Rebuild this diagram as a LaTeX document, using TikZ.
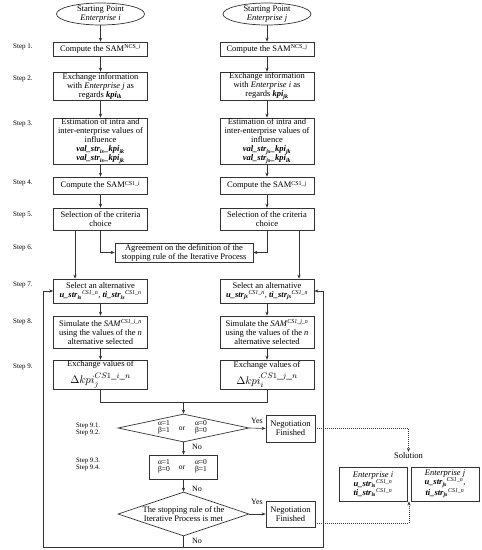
\documentclass[tikz,border=0pt]{standalone}
\usepackage{fontspec}
\setmainfont{Liberation Serif}
\usetikzlibrary{arrows.meta,shapes.geometric,calc}
\newcommand{\fsz}{\fontsize{8.5}{9}\selectfont}
\newcommand{\bi}[1]{\textbf{\textit{#1}}}
\newcommand{\lo}[1]{\textsubscript{#1}}
\newcommand{\hi}[1]{\textsuperscript{#1}}
\newcommand{\dkpi}[2]{{\fontsize{11}{12}\selectfont$\Delta kpi_{#1}^{#2}$}}
\definecolor{lncol}{HTML}{333333}
\begin{document}
\begin{tikzpicture}[x=1pt,y=-1pt,
  box/.style={draw=lncol, line width=0.7pt, align=center, font=\fsz, inner sep=0pt, minimum width=94pt},
  ell/.style={draw=lncol, line width=0.7pt, ellipse, inner sep=0pt, minimum width=88pt, minimum height=22pt},
  etext/.style={font=\fontsize{8.5}{8.5}\selectfont, align=center, inner sep=0pt},
  dia/.style={draw=lncol, line width=0.7pt, diamond, inner sep=0pt, minimum width=131pt},
  con/.style={draw=lncol, line width=0.6pt},
  arr/.style={draw=lncol, line width=0.6pt, -{Stealth[length=4pt,width=3.2pt]}},
  dotarr/.style={draw=lncol, line width=0.6pt, dash pattern=on 1pt off 1pt, -{Stealth[length=4pt,width=3.2pt]}},
  steplbl/.style={anchor=west, font=\fontsize{7}{8}\selectfont, inner sep=0pt},
  sublbl/.style={anchor=west, font=\fontsize{6.8}{7}\selectfont, inner sep=0pt, align=left},
  small/.style={font=\fontsize{7.5}{7.5}\selectfont, inner sep=0pt, align=left},
  yn/.style={font=\fontsize{8}{9}\selectfont, inner sep=0pt}
]
\useasboundingbox (0,0) rectangle (482,550);

% start ellipses
\node[ell] (e1) at (100.5,14) {};
\node[etext] (e1t) at (e1.center) {Starting Point\\\textit{Enterprise i}};
\node[ell] (f1) at (267,14) {};
\node[etext] (f1t) at (f1.center) {Starting Point\\\textit{Enterprise j}};

% left column
\node[box, minimum height=14pt] (a1) at (100.5,49) {Compute the SAM\hi{NCS\_i}};
\node[box, minimum height=28pt] (a2) at (100.5,86) {Exchange information\\with \textit{Enterprise j} as\\regards \bi{kpi}\lo{\bi{ik}}};
\node[box, minimum height=46pt] (a3) at (100.5,141) {Estimation of intra and\\inter-enterprise values of\\influence\\\bi{val\_str}\lo{\bi{is}}\bi{\_kpi}\lo{\bi{ik}}\\\bi{val\_str}\lo{\bi{is}}\bi{\_kpi}\lo{\bi{jk}}};
\node[box, minimum height=17pt] (a4) at (100.5,185.5) {Compute the SAM\hi{CS1\_i}};
\node[box, minimum height=22pt] (a5) at (100.5,219) {Selection of the criteria\\choice};
\node[box, minimum height=24pt] (a7) at (100.5,291) {Select an alternative\\\bi{u\_str}\lo{\bi{is}}\hi{\textit{CS1\_n}}, \bi{ti\_str}\lo{\bi{is}}\hi{\textit{CS1\_n}}};
\node[box, minimum height=32pt] (a8) at (100.5,332) {Simulate the \textit{SAM}\hi{\textit{CS1\_i\_n}}\\using the values of the \textit{n}\\alternative selected};
\node[box, minimum height=29pt] (a9) at (100.5,374.5) {Exchange values of\\[3pt]\dkpi{j}{CS1\_i\_n}};

% right column
\node[box, minimum height=14pt] (b1) at (267,49) {Compute the SAM\hi{NCS\_j}};
\node[box, minimum height=28pt] (b2) at (267,86) {Exchange information\\with \textit{Enterprise i} as\\regards \bi{kpi}\lo{\bi{jk}}};
\node[box, minimum height=46pt] (b3) at (267,141) {Estimation of intra and\\inter-enterprise values of\\influence\\\bi{val\_str}\lo{\bi{js}}\bi{\_kpi}\lo{\bi{jk}}\\\bi{val\_str}\lo{\bi{js}}\bi{\_kpi}\lo{\bi{ik}}};
\node[box, minimum height=17pt] (b4) at (267,185.5) {Compute the SAM\hi{CS1\_j}};
\node[box, minimum height=22pt] (b5) at (267,219) {Selection of the criteria\\choice};
\node[box, minimum height=24pt] (b7) at (267,291) {Select an alternative\\\bi{u\_str}\lo{\bi{js}}\hi{\textit{CS1\_n}}, \bi{ti\_str}\lo{\bi{js}}\hi{\textit{CS1\_n}}};
\node[box, minimum height=32pt] (b8) at (267,332) {Simulate the \textit{SAM}\hi{\textit{CS1\_j\_n}}\\using the values of the \textit{n}\\alternative selected};
\node[box, minimum height=29pt] (b9) at (267,374.5) {Exchange values of\\[3pt]\dkpi{i}{CS1\_j\_n}};

% agreement
\node[box, minimum width=138pt, minimum height=19pt] (agr) at (184,252.5) {Agreement on the definition of the\\stopping rule of the Iterative Process};

% decisions
\coordinate (m) at (183.5,402);
\node[dia, minimum height=28pt] (d1) at (183.5,428) {};
\node[small, align=center] (d1l) at (164,427.5) {α=1\\β=1};
\node[small] (d1o) at (182,428.5) {or};
\node[small, align=center] (d1r) at (201,427.5) {α=0\\β=0};

\node[box, minimum width=68pt, minimum height=24pt] (bx) at (183.5,467) {};
\node[small, align=center] (bxl) at (164,466.5) {α=1\\β=0};
\node[small] (bxo) at (182,467.5) {or};
\node[small, align=center] (bxr) at (201,466.5) {α=0\\β=1};

\node[dia, minimum height=44pt] (d2) at (183.5,514) {};
\node[font=\fsz, align=center, inner sep=0pt] (d2t) at (183.5,514) {The stopping rule of the\\Iterative Process is met};

\node[box, minimum width=49pt, minimum height=27pt] (nf1) at (290.5,428.5) {Negotiation\\Finished};
\node[box, minimum width=49pt, minimum height=26pt] (nf2) at (290.5,514) {Negotiation\\Finished};

% solution
\node[font=\fsz, inner sep=1pt] (sol) at (408.5,456) {Solution};
\node[box, minimum width=68pt, minimum height=34pt] (sl) at (373,484) {\textit{Enterprise i}\\\bi{u\_str}\lo{\bi{is}}\hi{\textit{CS1\_n}}\\\bi{ti\_str}\lo{\bi{is}}\hi{\textit{CS1\_n}}};
\node[box, minimum width=68pt, minimum height=34pt] (sr) at (445,484) {\textit{Enterprise j}\\\bi{u\_str}\lo{\bi{js}}\hi{\textit{CS1\_n}},\\\bi{ti\_str}\lo{\bi{js}}\hi{\textit{CS1\_n}}};
\coordinate (sb) at ($(sl.south east)!0.5!(sr.south west)$);

% step labels
\node[steplbl] (s1) at (13,47) {Step 1.};
\node[steplbl] (s2) at (13,79) {Step 2.};
\node[steplbl] (s3) at (13,124) {Step 3.};
\node[steplbl] (s4) at (13,183) {Step 4.};
\node[steplbl] (s5) at (13,215) {Step 5.};
\node[steplbl] (s6) at (13,248) {Step 6.};
\node[steplbl] (s7) at (13,285) {Step 7.};
\node[steplbl] (s8) at (13,322) {Step 8.};
\node[steplbl] (s9) at (13,367) {Step 9.};
\node[sublbl] (s91) at (76,429.5) {Step 9.1.\\Step 9.2.};
\node[sublbl] (s93) at (76,464.5) {Step 9.3.\\Step 9.4.};

% connectors, columns
\draw[arr] (e1) -- (a1);
\draw[arr] (a1) -- (a2);
\draw[arr] (a2) -- (a3);
\draw[arr] (a3) -- (a4);
\draw[arr] (a4) -- (a5);
\draw[arr] (a7) -- (a8);
\draw[arr] (a8) -- (a9);
\draw[arr] (f1) -- (b1);
\draw[arr] (b1) -- (b2);
\draw[arr] (b2) -- (b3);
\draw[arr] (b3) -- (b4);
\draw[arr] (b4) -- (b5);
\draw[arr] (b7) -- (b8);
\draw[arr] (b8) -- (b9);

% to agreement
\draw[arr] (a5.south) |- (agr.west);
\draw[arr] (b5.south) |- (agr.east);
% to step 7
\draw[arr] ([xshift=-25.5pt]a5.south) -- ([xshift=-25.5pt]a7.north);
\draw[arr] ([xshift=32pt]b5.south) -- ([xshift=32pt]b7.north);

% merge
\draw[con] (a9.south) |- (m);
\draw[con] (b9.south) |- (m);
\draw[arr] (m) -- (d1.north);
\draw[arr] (d1.south) -- (bx.north);
\draw[arr] (bx.south) -- (d2.north);
\draw[arr] (d1.east) -- (nf1.west);
\draw[arr] (d2.east) -- (nf2.west);

% loop back
\coordinate (lb) at (183.5,547);
\coordinate (lc) at (43,547);
\coordinate (rc) at (323,547);
\draw[con] (d2.south) -- (lb);
\draw[arr] (lb) -- (lc) |- (a7.west);
\draw[arr] (lb) -- (rc) |- (b7.east);

% yes / no
\node[yn] (y1) at (257,421) {Yes};
\node[yn] (y2) at (257,502) {Yes};
\node[yn, anchor=west] (n1) at (192,447) {No};
\node[yn, anchor=west] (n2) at (192,489) {No};
\node[yn, anchor=west] (n3) at (192,541) {No};

% dotted to solution
\draw[dotarr] (nf1.east) -| (sol.north);
\draw[dotarr] ([yshift=4pt]nf2.south east) -| (sb);
\end{tikzpicture}
\end{document}
